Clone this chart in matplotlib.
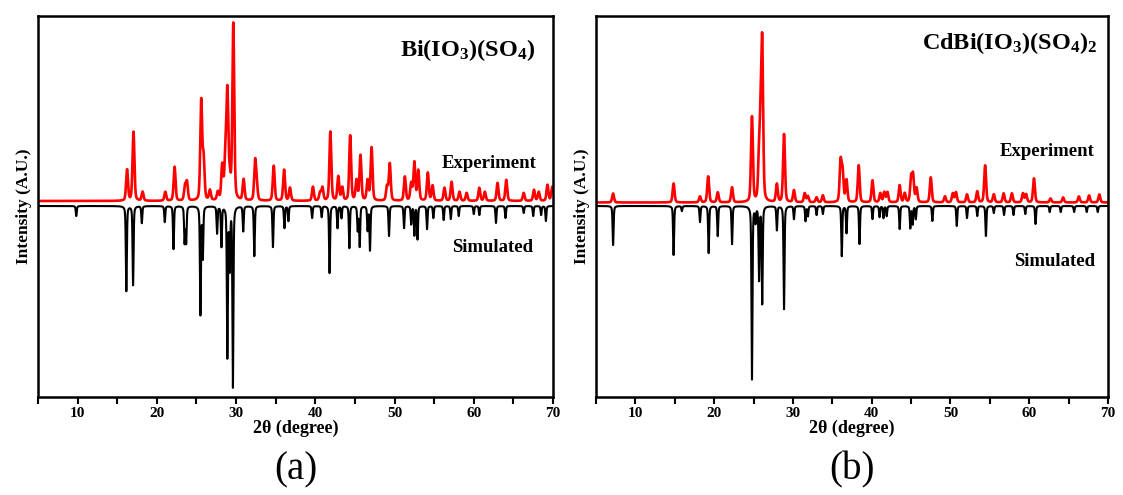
import numpy as np
import matplotlib.pyplot as plt
from matplotlib.ticker import MultipleLocator

plt.rcParams['font.family'] = ['Liberation Serif', 'DejaVu Serif']
plt.rcParams['font.weight'] = 'bold'
plt.rcParams['mathtext.fontset'] = 'custom'
plt.rcParams['mathtext.rm'] = 'Liberation Serif:bold'
plt.rcParams['mathtext.bf'] = 'Liberation Serif:bold'
plt.rcParams['mathtext.it'] = 'Liberation Serif:bold'

# (a) Bi(IO3)(SO4): peak positions (2theta) and heights
a_exp_pos = [16.24, 17.05, 18.2, 21.07, 22.24, 23.55, 23.8, 25.6, 25.9, 26.7, 27.7, 28.25,
             28.65, 28.9, 29.2, 29.65, 30.95, 32.4, 32.6, 34.75, 36.06, 36.8, 39.7, 40.6,
             40.9, 41.9, 42.9, 43.4, 44.4, 45.2, 45.7, 46.6, 47.1, 49.05, 49.4, 51.3, 52.1,
             52.5, 53.0, 54.2, 54.8, 56.3, 57.2, 58.2, 59.1, 60.7, 61.4, 63.0, 64.1, 66.3,
             67.6, 68.2, 69.3, 69.9]
a_exp_amp = [31, 69, 9, 9, 34, 14, 18, 99, 40, 10, 8, 34,
             40, 105, 20, 176, 21, 38, 15, 35, 31, 13, 14, 8,
             13, 69, 24, 13, 65, 20, 45, 20, 53, 14, 37, 24, 17,
             38, 30, 28, 15, 13, 19, 9, 8, 13, 9, 18, 21, 8,
             11, 9, 16, 14]
a_sim_pos = [9.83, 16.15, 17.0, 18.1, 21.0, 22.1, 23.5, 23.7, 25.5, 25.8, 27.6, 28.15,
             28.9, 29.2, 29.6, 30.9, 32.3, 34.65, 36.1, 36.6, 39.6, 40.8, 41.8, 42.8,
             43.3, 44.3, 45.35, 45.6, 46.6, 46.9, 49.3, 51.2, 52.1, 52.5, 52.9, 54.1,
             54.9, 56.2, 57.1, 58.1, 60.0, 60.7, 62.8, 64.0, 66.3, 67.5, 68.5, 69.1]
a_sim_amp = [10, 85, 79, 17, 16, 43, 36, 36, 108, 51, 27, 40,
             150, 60, 180, 25, 50, 41, 22, 15, 12, 11, 67, 22,
             12, 42, 24, 40, 24, 44, 30, 22, 18, 29, 33, 23,
             12, 14, 13, 10, 8, 9, 17, 12, 7, 10, 9, 15]
a_exp_base = 5

# (b) CdBi(IO3)(SO4)2
b_exp_pos = [7.17, 14.85, 18.2, 19.24, 20.46, 22.27, 24.8, 25.7, 25.9, 26.1, 27.96, 28.87,
             30.13, 31.5, 31.9, 33.0, 33.8, 36.05, 36.3, 36.8, 38.35, 40.1, 41.1, 41.6,
             42.0, 43.55, 44.2, 45.0, 45.25, 45.7, 47.5, 49.3, 50.3, 50.7, 52.1, 53.4,
             54.4, 55.5, 56.75, 57.8, 59.2, 59.6, 60.6, 62.7, 64.3, 66.3, 67.6, 68.9]
b_exp_amp = [9, 19, 6, 26, 10, 15, 85, 40, 60, 150, 18, 68,
             12, 9, 6, 5, 7, 40, 30, 22, 37, 22, 9, 10,
             10, 17, 9, 24, 26, 14, 25, 6, 9, 10, 8, 11,
             37, 8, 9, 9, 9, 8, 24, 4, 5, 6, 7, 8]
b_sim_pos = [7.17, 14.85, 15.9, 18.2, 19.3, 20.45, 22.27, 24.8, 25.25, 25.7, 26.1, 27.96,
             28.87, 30.13, 31.6, 31.9, 33.0, 33.8, 36.2, 36.8, 38.45, 40.1, 41.0, 41.5,
             41.9, 43.55, 44.9, 45.2, 45.6, 47.7, 50.8, 52.1, 53.4, 54.5, 55.5, 56.8,
             58.0, 59.5, 60.8, 62.6, 64.0, 65.7, 67.3, 68.7]
b_sim_amp = [39, 49, 5, 16, 47, 30, 38, 173, 15, 73, 97, 24,
             103, 13, 15, 10, 9, 8, 50, 27, 38, 13, 11, 12,
             10, 23, 22, 18, 13, 15, 20, 12, 10, 30, 7, 9,
             9, 8, 18, 6, 6, 6, 6, 6]
b_exp_base = 3.5

panels = [
    (a_exp_pos, a_exp_amp, a_exp_base, a_sim_pos, a_sim_amp,
     r'Bi(IO$_3$)(SO$_4$)', (67.8, 156), (67.9, 43), (67.5, -42), '(a)'),
    (b_exp_pos, b_exp_amp, b_exp_base, b_sim_pos, b_sim_amp,
     r'CdBi(IO$_3$)(SO$_4$)$_2$', (68.6, 163), (68.3, 55), (68.4, -56), '(b)'),
]


def pattern(x, pos, amp, fwhm, eta):
    y = np.zeros_like(x)
    for p, a in zip(pos, amp):
        d = (x - p) / (fwhm / 2)
        y += a * (eta / (1 + d ** 2) + (1 - eta) * np.exp(-np.log(2) * d ** 2))
    return y


x = np.arange(5, 70.001, 0.01)

fig = plt.figure(figsize=(11.23, 4.95), dpi=100)
lefts = [38 / 1123, 596 / 1123]
widths = [515 / 1123, 512 / 1123]

for i, (ep, ea, eb, sp, sa, name, npos, epos, spos, tag) in enumerate(panels):
    ax = fig.add_axes([lefts[i], 98 / 495, widths[i], 381 / 495])
    sim = -pattern(x, sp, sa, 0.15, 0.45)
    exp = eb + pattern(x, ep, ea, 0.28, 0.35)
    ax.plot(x, sim, color='black', lw=1.5)
    ax.plot(x, exp, color='red', lw=1.9)

    ax.set_xlim(5, 70)
    ax.set_ylim(-191, 190)
    ax.set_yticks([])
    ax.xaxis.set_major_locator(MultipleLocator(10))
    ax.xaxis.set_minor_locator(MultipleLocator(5))
    ax.tick_params(axis='x', which='both', direction='out', length=5, width=1.5,
                   labelsize=11, pad=2)
    for s in ax.spines.values():
        s.set_linewidth(1.8)

    ax.set_xlabel('2θ (degree)', fontsize=13, fontweight='bold', labelpad=0)
    ax.set_ylabel('Intensity (A.U.)', fontsize=12.5, fontweight='bold', labelpad=4)

    ax.text(npos[0], npos[1], name, fontsize=17.5, fontweight='bold', ha='right', va='center')
    ax.text(epos[0], epos[1], 'Experiment', fontsize=13.5, fontweight='bold', ha='right', va='center')
    ax.text(spos[0], spos[1], 'Simulated', fontsize=13.5, fontweight='bold', ha='right', va='center')

    fig.text(lefts[i] + widths[i] / 2, 1 - 470 / 495, tag, fontsize=28, fontweight='normal',
             ha='center', va='center')

plt.savefig('out.png', dpi=100)
